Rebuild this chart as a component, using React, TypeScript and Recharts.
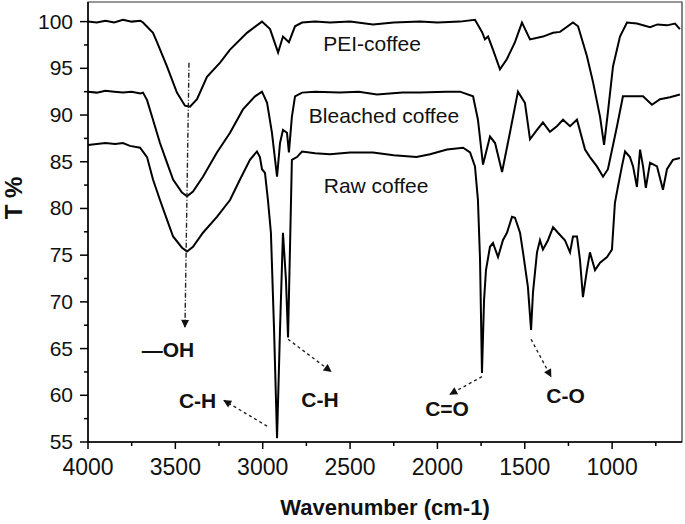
import { LineChart, Line, XAxis, YAxis, ReferenceArea, ReferenceLine, ReferenceDot } from "recharts";

const FONT = "'Liberation Sans', Arial, sans-serif";

// spectra as [wavenumber, T%] pairs
const peiCoffee: [number, number][] = [
  [4000, 100.0], [3950, 99.9], [3900, 100.1], [3850, 99.9], [3800, 100.2], [3750, 100.0], [3700, 100.1], [3685, 99.9],
  [3628, 98.8], [3605, 97.8], [3548, 95.2], [3491, 92.4], [3445, 91.0], [3416, 90.9], [3376, 91.7], [3319, 94.1],
  [3244, 95.6], [3187, 97.0], [3090, 98.8], [3004, 100.0], [2958, 99.2], [2912, 96.7], [2884, 98.4], [2850, 97.8],
  [2815, 99.5], [2775, 99.9], [2700, 100.0], [2615, 99.9], [2500, 100.0], [2369, 99.7], [2250, 99.9], [2100, 100.0],
  [2000, 99.9], [1871, 100.0], [1785, 100.2], [1745, 98.9], [1728, 98.1], [1710, 98.4], [1682, 97.0], [1642, 94.9],
  [1602, 96.0], [1556, 97.8], [1516, 99.9], [1470, 98.1], [1396, 98.4], [1338, 98.8], [1298, 98.9], [1224, 99.9],
  [1195, 99.5], [1144, 96.3], [1109, 93.5], [1069, 89.8], [1046, 86.8], [1024, 90.3], [995, 95.2], [955, 98.4],
  [915, 99.9], [858, 99.8], [783, 99.4], [740, 99.7], [686, 99.6], [640, 99.8], [612, 99.2],
];

const bleachedCoffee: [number, number][] = [
  [4000, 92.5], [3950, 92.4], [3900, 92.6], [3850, 92.5], [3800, 92.4], [3750, 92.5], [3700, 92.3], [3685, 92.4],
  [3662, 91.6], [3628, 89.5], [3588, 87.0], [3548, 84.9], [3513, 83.1], [3462, 81.7], [3433, 81.3], [3399, 81.8],
  [3342, 83.4], [3262, 86.0], [3187, 88.1], [3113, 90.6], [3044, 92.0], [3004, 92.5], [2975, 91.3], [2947, 88.1],
  [2918, 83.4], [2901, 87.0], [2884, 88.4], [2861, 88.1], [2850, 86.0], [2833, 89.8], [2815, 92.0], [2775, 92.4],
  [2700, 92.5], [2558, 92.4], [2450, 92.5], [2346, 92.2], [2200, 92.4], [2100, 92.4], [1950, 92.5], [1871, 92.5],
  [1796, 92.0], [1768, 89.5], [1739, 84.7], [1699, 87.7], [1670, 87.0], [1630, 83.9], [1585, 88.1], [1539, 92.5],
  [1499, 91.3], [1470, 87.4], [1430, 88.4], [1396, 89.2], [1356, 88.2], [1316, 88.8], [1281, 89.5], [1241, 88.8],
  [1201, 89.5], [1155, 86.3], [1127, 85.5], [1087, 84.5], [1052, 83.4], [1024, 84.2], [972, 88.8], [938, 92.0],
  [880, 92.0], [823, 92.0], [772, 91.1], [726, 91.7], [669, 91.9], [612, 92.2],
];

const rawCoffee: [number, number][] = [
  [4000, 86.8], [3950, 86.9], [3900, 87.0], [3845, 86.9], [3800, 87.0], [3760, 86.7], [3702, 86.5], [3662, 85.5],
  [3628, 83.1], [3588, 80.9], [3548, 78.8], [3513, 77.0], [3462, 75.8], [3433, 75.4], [3399, 75.9], [3342, 77.4],
  [3262, 79.1], [3187, 80.9], [3130, 83.1], [3073, 85.2], [3033, 86.1], [3016, 85.5], [3004, 84.2], [2987, 83.8],
  [2970, 80.9], [2953, 77.4], [2935, 67.0], [2918, 55.4], [2901, 67.0], [2884, 77.4], [2867, 72.4], [2855, 66.2],
  [2844, 75.6], [2833, 85.2], [2804, 85.5], [2775, 86.1], [2700, 85.9], [2615, 85.8], [2500, 86.0], [2369, 86.0],
  [2250, 85.7], [2120, 85.5], [2042, 85.8], [1945, 86.3], [1853, 86.5], [1813, 86.0], [1785, 84.5], [1768, 80.9],
  [1756, 74.5], [1745, 62.4], [1733, 70.2], [1722, 73.4], [1699, 75.9], [1682, 76.3], [1653, 74.8], [1625, 76.6],
  [1602, 77.4], [1573, 79.1], [1556, 79.0], [1527, 77.4], [1510, 75.3], [1482, 71.6], [1464, 67.0], [1453, 71.0],
  [1430, 75.3], [1413, 76.6], [1396, 75.6], [1367, 76.6], [1338, 78.0], [1310, 77.4], [1270, 76.6], [1241, 75.3],
  [1224, 77.0], [1201, 77.0], [1184, 74.5], [1167, 70.5], [1144, 73.4], [1127, 75.3], [1098, 73.4], [1069, 74.2],
  [1029, 74.8], [1001, 75.6], [984, 80.6], [967, 82.3], [944, 84.5], [926, 86.1], [898, 85.5], [880, 84.5],
  [858, 82.3], [840, 86.3], [823, 84.5], [807, 82.2], [783, 84.9], [743, 84.5], [709, 82.0], [686, 84.2],
  [652, 85.2], [612, 85.4],
];

const xTicks = [4000, 3750, 3500, 3250, 3000, 2750, 2500, 2250, 2000, 1750, 1500, 1250, 1000, 750];
const yTicks = [55, 57.5, 60, 62.5, 65, 67.5, 70, 72.5, 75, 77.5, 80, 82.5, 85, 87.5, 90, 92.5, 95, 97.5, 100];

const X_MIN = 600;
const X_MAX = 4000;
const Y_MIN = 55;
const Y_MAX = 102.1;

// text labels: [text, wavenumber, T%, bold]
const labels: [string, number, number, boolean][] = [
  ["PEI-coffee", 2374, 97.7, false],
  ["Bleached coffee", 2306, 90.0, false],
  ["Raw coffee", 2351, 82.5, false],
  ["\u2014OH", 3542, 64.9, true],
  ["C-H", 3373, 59.45, true],
  ["C-H", 2672, 59.5, true],
  ["C=O", 1945, 58.6, true],
  ["C-O", 1267, 60.0, true],
];

// arrows: [fromWn, fromT, toWn, toT, dashDot]
const arrows: [number, number, number, number, boolean][] = [
  [3422, 95.6, 3445, 67.3, true],
  [2975, 56.7, 3222, 59.45, false],
  [2855, 66.0, 2609, 62.55, false],
  [1745, 62.0, 1928, 60.1, false],
  [1464, 66.0, 1350, 62.0, false],
];

const toRows = (pts: [number, number][]) => pts.map(([wn, t]) => ({ wn, t }));

const YTick = ({ x, y, payload }: any) => {
  const major = payload.value % 5 === 0;
  return (
    <g>
      <line x1={x - (major ? 8 : 4)} x2={x} y1={y} y2={y} stroke="#000" strokeWidth={1.5} />
      {major && (
        <text x={x - 15} y={y + 7} textAnchor="end" fontSize={21} fontFamily={FONT} fill="#111">
          {payload.value}
        </text>
      )}
    </g>
  );
};

const XTick = ({ x, y, payload }: any) => {
  const major = payload.value % 500 === 0;
  return (
    <g>
      <line x1={x} x2={x} y1={y} y2={y + (major ? 7 : 4)} stroke="#000" strokeWidth={1.5} />
      {major && (
        <text x={x} y={y + 33} textAnchor="middle" fontSize={23} fontFamily={FONT} fill="#111">
          {payload.value}
        </text>
      )}
    </g>
  );
};

export default function App() {
  return (
    <div>
      <style>{`body{margin:0;background:#fff}`}</style>
      <LineChart width={685} height={524} margin={{ top: 2, right: 3, left: 0, bottom: 0 }}>
        <defs>
          <marker id="arrowHead" viewBox="0 0 10 10" refX="9" refY="5" markerUnits="userSpaceOnUse" markerWidth="9" markerHeight="8" orient="auto">
            <path d="M0,0 L10,5 L0,10 z" fill="#111" />
          </marker>
        </defs>
        <XAxis
          dataKey="wn"
          type="number"
          domain={[X_MIN, X_MAX]}
          reversed
          allowDataOverflow
          ticks={xTicks}
          interval={0}
          tick={<XTick />}
          tickLine={false}
          tickSize={0}
          tickMargin={0}
          axisLine={{ stroke: "#000", strokeWidth: 1.5 }}
          height={82}
          label={{
            content: (p: any) => {
              const vb = p.viewBox;
              return (
                <text x={vb.x + vb.width / 2} y={vb.y + 73} textAnchor="middle" fontSize={22} fontWeight="bold" fontFamily={FONT} fill="#111">
                  Wavenumber (cm-1)
                </text>
              );
            },
          }}
        />
        <YAxis
          type="number"
          domain={[Y_MIN, Y_MAX]}
          allowDataOverflow
          ticks={yTicks}
          interval={0}
          tick={<YTick />}
          tickLine={false}
          tickSize={0}
          tickMargin={0}
          axisLine={{ stroke: "#000", strokeWidth: 1.5 }}
          width={88}
          label={{
            content: (p: any) => {
              const vb = p.viewBox;
              const cx = vb.x + 22;
              const cy = vb.y + vb.height / 2 - 24;
              return (
                <text x={cx} y={cy} transform={`rotate(-90 ${cx} ${cy})`} textAnchor="middle" fontSize={24} fontWeight="bold" fontFamily={FONT} fill="#111">
                  T %
                </text>
              );
            },
          }}
        />
        <ReferenceArea x1={X_MIN} x2={X_MAX} y1={Y_MIN} y2={Y_MAX} fill="none" stroke="#333" strokeWidth={1.2} ifOverflow="visible" />
        <Line data={toRows(peiCoffee)} dataKey="t" type="linear" stroke="#000" strokeWidth={2} dot={false} isAnimationActive={false} />
        <Line data={toRows(bleachedCoffee)} dataKey="t" type="linear" stroke="#000" strokeWidth={2} dot={false} isAnimationActive={false} />
        <Line data={toRows(rawCoffee)} dataKey="t" type="linear" stroke="#000" strokeWidth={2} dot={false} isAnimationActive={false} />
        {arrows.map(([x1, y1, x2, y2, dashDot], i) => (
          <ReferenceLine
            key={"a" + i}
            segment={[{ x: x1, y: y1 }, { x: x2, y: y2 }]}
            stroke="#222"
            strokeWidth={1.4}
            strokeDasharray={dashDot ? "5 2 1 2" : "3 3"}
            markerEnd="url(#arrowHead)"
            ifOverflow="visible"
          />
        ))}
        {labels.map(([text, x, y, bold], i) => (
          <ReferenceDot
            key={"l" + i}
            x={x}
            y={y}
            r={0}
            fill="none"
            stroke="none"
            ifOverflow="visible"
            label={{
              content: (p: any) => {
                const vb = p.viewBox;
                return (
                  <text
                    x={vb.x + vb.width / 2}
                    y={vb.y + vb.height / 2}
                    dominantBaseline="central"
                    textAnchor="middle"
                    fontSize={21}
                    fontWeight={bold ? "bold" : "normal"}
                    fontFamily={FONT}
                    fill="#111"
                  >
                    {text}
                  </text>
                );
              },
            }}
          />
        ))}
      </LineChart>
    </div>
  );
}
